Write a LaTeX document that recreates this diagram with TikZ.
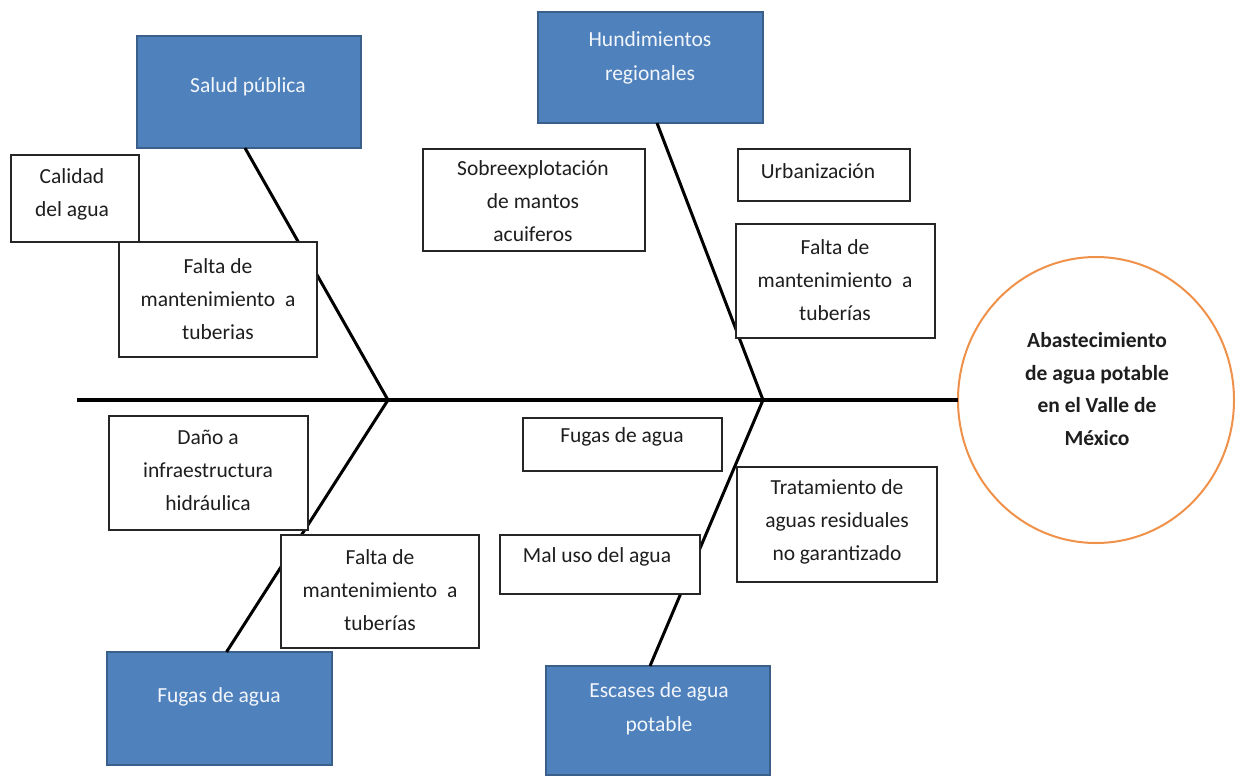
\documentclass[tikz,border=0pt]{standalone}
\usepackage{fontspec}
\setmainfont{Carlito}
\usetikzlibrary{calc,shapes.geometric}
\definecolor{catfill}{HTML}{4F81BD}
\definecolor{catedge}{HTML}{3A5F8B}
\definecolor{goaledge}{HTML}{F0914A}
\definecolor{inktext}{HTML}{1E1E1E}
\definecolor{lighttext}{HTML}{F2F6FB}
\begin{document}
\begin{tikzpicture}[x=1pt,y=-1pt,
  every node/.style={inner sep=0pt,outer sep=0pt},
  catbox/.style={draw=catedge,fill=catfill,line width=1.5pt},
  causebox/.style={draw=black!85,fill=white,line width=1.4pt},
  cattext/.style={text=lighttext,align=center,font=\fontsize{21.5}{34}\selectfont},
  causetext/.style={text=inktext,align=center,font=\fontsize{21.5}{33}\selectfont},
  goaltext/.style={text=inktext,align=center,font=\bfseries\fontsize{21.5}{32.5}\selectfont},
  spine/.style={line width=3.5pt,black},
  bone/.style={line width=3pt,black}]
\useasboundingbox (0,0) rectangle (1239,777);

% head of the fish: the effect
\node[ellipse,draw=goaledge,fill=white,line width=2pt,minimum width=276,minimum height=286] (goal) at (1096,400) {};
\node[goaltext] (goaltxt) at (1097,389) {Abastecimiento\\de agua potable\\en el Valle de\\México};

% spine and junctions
\coordinate (tail) at (77,400);
\coordinate (j1) at (388,400);
\coordinate (j2) at (763,400);
\draw[spine] (tail) -- (goal.west);

% category boxes
\node[catbox,minimum width=224,minimum height=112] (salud) at (249,92) {};
\node[catbox,minimum width=225,minimum height=111] (hund) at (650.5,67.5) {};
\node[catbox,minimum width=225,minimum height=113] (fugasB) at (219.5,708.5) {};
\node[catbox,minimum width=224,minimum height=109] (escases) at (658,720.5) {};

% bones
\draw[bone] ([xshift=-4]salud.south) -- (j1);
\draw[bone] (j1) -- ([xshift=7]fugasB.north);
\draw[bone] ([xshift=6.5]hund.south) -- (j2);
\draw[bone] (j2) -- ([xshift=-8]escases.north);

% category labels
\node[cattext] (saludtxt) at (248,87) {Salud pública};
\node[cattext] (hundtxt) at (650,58) {Hundimientos\\regionales};
\node[cattext] (fugasBtxt) at (219,697) {Fugas de agua};
\node[cattext] (escasestxt) at (659,709) {Escases de agua\\potable};

% cause boxes
\node[causebox,minimum width=128,minimum height=87] (calidad) at (75,198.5) {};
\node[causebox,minimum width=198,minimum height=115] (faltaA) at (218,299.5) {};
\node[causebox,minimum width=222,minimum height=102] (sobre) at (534,200) {};
\node[causebox,minimum width=172,minimum height=52] (urban) at (824,175) {};
\node[causebox,minimum width=199,minimum height=114] (faltaB) at (835.5,281) {};
\node[causebox,minimum width=199,minimum height=114] (dano) at (208.5,473) {};
\node[causebox,minimum width=198,minimum height=113] (faltaC) at (380,591.5) {};
\node[causebox,minimum width=199,minimum height=53] (fugasW) at (622.5,444.5) {};
\node[causebox,minimum width=200,minimum height=115] (trat) at (837,524.5) {};
\node[causebox,minimum width=200,minimum height=59] (maluso) at (600,564.5) {};

% cause labels
\node[causetext] (calidadtxt) at (72,194) {Calidad\\del agua};
\node[causetext] (faltaAtxt) at (218,299) {Falta de\\mantenimiento\ \ a\\tuberias};
\node[causetext] (sobretxt) at (533,201) {Sobreexplotación\\de mantos\\acuiferos};
\node[causetext] (urbantxt) at (818,171) {Urbanización};
\node[causetext] (faltaBtxt) at (835,280) {Falta de\\mantenimiento\ \ a\\tuberías};
\node[causetext] (danotxt) at (208,470) {Daño a\\infraestructura\\hidráulica};
\node[causetext] (faltaCtxt) at (380,590) {Falta de\\mantenimiento\ \ a\\tuberías};
\node[causetext] (fugasWtxt) at (622,437) {Fugas de agua};
\node[causetext] (trattxt) at (837,522) {Tratamiento de\\aguas residuales\\no garantizado};
\node[causetext] (malusotxt) at (597,557) {Mal uso del agua};
\end{tikzpicture}
\end{document}
